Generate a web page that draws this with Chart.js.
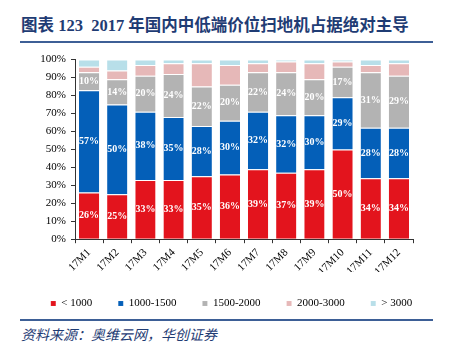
<!DOCTYPE html>
<html>
<head>
<meta charset="utf-8">
<script src="https://cdn.jsdelivr.net/npm/chart.js@4/dist/chart.umd.min.js"></script>
<style>
  body { margin: 0; background: #fff; }
  #page { position: relative; width: 451px; height: 345px; overflow: hidden; }
  #title { position: absolute; left: 21px; top: 12px; font: bold 16.5px "Liberation Serif", "Noto Sans CJK SC", serif; color: #1f3c74; white-space: nowrap; }
  .rule { position: absolute; left: 20px; width: 413px; height: 2px; background: #3d5f96; }
  #source { position: absolute; left: 21px; top: 326px; font: italic 14px "Noto Sans CJK SC", sans-serif; color: #1f3c74; white-space: nowrap; line-height: 16px; }
  #box { position: absolute; left: 0; top: 48px; width: 451px; height: 271px; }
</style>
</head>
<body>
<div id="page">
  <div id="title">图表 123&nbsp; 2017 年国内中低端价位扫地机占据绝对主导</div>
  <div class="rule" style="top:41px"></div>
  <div id="box"><canvas id="myChart"></canvas></div>
  <div class="rule" style="top:319px"></div>
  <div id="source">资料来源：奥维云网，华创证券</div>
</div>
<script>
var months = ['17M1', '17M2', '17M3', '17M4', '17M5', '17M6', '17M7', '17M8', '17M9', '17M10', '17M11', '17M12'];
var below1000 = [26, 25, 33, 33, 35, 36, 39, 37, 39, 50, 34, 34];
var from1000to1500 = [57, 50, 38, 35, 28, 30, 32, 32, 30, 29, 28, 28];
var from1500to2000 = [10, 14, 20, 24, 22, 20, 22, 24, 20, 17, 31, 29];
var from2000to3000 = [3, 5, 6, 6, 13, 11, 5, 6, 9, 3, 4, 7];
var above3000 = [4, 6, 3, 2, 2, 3, 2, 1, 2, 1, 3, 2];
var yTicks = [0, 10, 20, 30, 40, 50, 60, 70, 80, 90, 100];

var serif = '"Liberation Serif", "Times New Roman", serif';

// white percentage labels inside the three lower segments
var barLabels = {
    id: 'barLabels',
    afterDatasetsDraw: function (chart) {
        var ctx = chart.ctx;
        ctx.save();
        ctx.fillStyle = '#ffffff';
        ctx.font = 'bold 10px ' + serif;
        ctx.textAlign = 'center';
        ctx.textBaseline = 'middle';
        for (var d = 0; d < 3; d++) {
            var meta = chart.getDatasetMeta(d);
            meta.data.forEach(function (bar, i) {
                var v = chart.data.datasets[d].data[i];
                ctx.fillText(v + '%', bar.x, (bar.y + bar.base) / 2);
            });
        }
        ctx.restore();
    }
};

var ctx = document.getElementById('myChart').getContext('2d');
var myChart = new Chart(ctx, {
    type: 'bar',
    data: {
        labels: months,
        datasets: [
            { label: '< 1000', data: below1000, backgroundColor: '#e3141d' },
            { label: '1000-1500', data: from1000to1500, backgroundColor: '#045fb8' },
            { label: '1500-2000', data: from1500to2000, backgroundColor: '#b3b3b3' },
            { label: '2000-3000', data: from2000to3000, backgroundColor: '#e6b8b8' },
            { label: '> 3000', data: above3000, backgroundColor: '#b8dfe9' }
        ]
    },
    options: {
        responsive: true,
        maintainAspectRatio: false,
        animation: false,
        datasets: {
            bar: {
                categoryPercentage: 0.72,
                barPercentage: 1,
                borderWidth: { top: 1 },
                borderColor: 'rgba(255,255,255,0.35)'
            }
        },
        layout: {
            padding: { left: 12, right: 0, top: 8, bottom: 0 }
        },
        plugins: {
            legend: {
                position: 'bottom',
                labels: {
                    boxWidth: 5,
                    boxHeight: 5,
                    padding: 26,
                    color: '#000',
                    font: { family: serif, size: 11 }
                }
            },
            tooltip: { enabled: false }
        },
        scales: {
            x: {
                stacked: true,
                // let the slanted labels hang into the legend's top padding
                afterFit: function (axis) { axis.height -= 9; },
                grid: {
                    display: true,
                    drawOnChartArea: false,
                    tickLength: 4,
                    color: '#333'
                },
                border: { color: '#333' },
                ticks: {
                    maxRotation: 45,
                    minRotation: 45,
                    padding: 3,
                    color: '#000',
                    font: { family: serif, size: 11 }
                }
            },
            y: {
                stacked: true,
                min: 0,
                max: 100,
                afterFit: function (axis) { axis.width = 63; },
                afterBuildTicks: function (axis) {
                    axis.ticks = yTicks.map(function (v) { return { value: v }; });
                },
                grid: {
                    display: true,
                    drawOnChartArea: false,
                    tickLength: 4,
                    color: '#333'
                },
                border: { color: '#333' },
                ticks: {
                    padding: 5,
                    color: '#000',
                    font: { family: serif, size: 11 },
                    callback: function (v) { return v + '%'; }
                }
            },
            // empty right-hand axis, only reserves the right margin
            yRight: {
                position: 'right',
                min: 0,
                max: 100,
                afterFit: function (axis) { axis.width = 38; },
                grid: { display: false },
                border: { display: false },
                ticks: { display: false }
            }
        }
    },
    plugins: [barLabels]
});
</script>
</body>
</html>
